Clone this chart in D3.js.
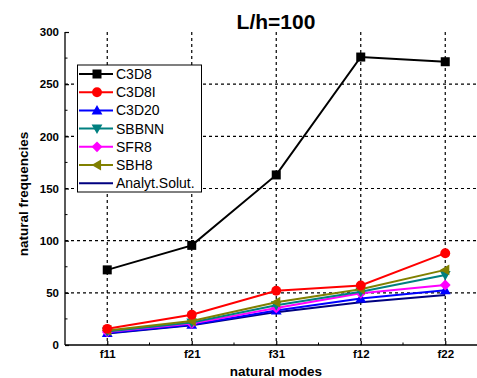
<!DOCTYPE html>
<html>
<head>
<meta charset="utf-8">
<script src="https://cdn.jsdelivr.net/npm/d3@7"></script>
<style>
  html, body { margin: 0; padding: 0; background: #fff; }
  svg { display: block; font-family: Arial, "Liberation Sans", sans-serif; }
</style>
</head>
<body>
<svg id="chart" width="477" height="378"></svg>
<script>
// Natural frequencies per mode, by element type
const modes = ["f11", "f21", "f31", "f12", "f22"];
const c3d8   = [72, 95.5, 163, 276, 271.5];
const c3d8i  = [15.5, 29, 52, 57, 88];
const c3d20  = [11.5, 19.5, 33, 44.5, 52.5];
const sbbnn  = [13, 21.5, 38, 51, 67];
const sfr8   = [12.5, 20.5, 35.5, 49.5, 57.5];
const sbh8   = [14, 23, 41, 53.5, 72];
const analyt = [11, 19, 31.5, 41, 48];
const yTicks = [0, 50, 100, 150, 200, 250, 300];

const series = [
  { name: "C3D8",          values: c3d8,   color: "#000000", symbol: "square" },
  { name: "C3D8I",         values: c3d8i,  color: "#ff0000", symbol: "circle" },
  { name: "C3D20",         values: c3d20,  color: "#0000ff", symbol: "up" },
  { name: "SBBNN",         values: sbbnn,  color: "#008080", symbol: "down" },
  { name: "SFR8",          values: sfr8,   color: "#ff00ff", symbol: "diamond" },
  { name: "SBH8",          values: sbh8,   color: "#808000", symbol: "left" },
  { name: "Analyt.Solut.", values: analyt, color: "#000080", symbol: null }
];

const svg = d3.select("#chart");
const plotLeft = 65, plotRight = 487.5, plotTop = 32, plotBottom = 345;

const x = d3.scalePoint().domain(modes).range([plotLeft, plotRight]).padding(0.5);
const y = d3.scaleLinear().domain([0, 300]).range([plotBottom, plotTop]);

// dashed grid
const grid = svg.append("g").attr("stroke", "#000").attr("stroke-width", 1.2)
  .attr("stroke-dasharray", "3,3");
grid.selectAll("line.v").data(modes).join("line").attr("class", "v")
  .attr("x1", d => x(d)).attr("x2", d => x(d))
  .attr("y1", plotTop).attr("y2", plotBottom);
grid.selectAll("line.h").data(yTicks.filter(d => d > 0 && d < 300)).join("line").attr("class", "h")
  .attr("x1", plotLeft).attr("x2", 477)
  .attr("y1", d => y(d)).attr("y2", d => y(d));

// axes (ticks drawn inward)
const yAxis = d3.axisLeft(y).tickValues(yTicks).tickSize(-4).tickPadding(6);
const gy = svg.append("g").attr("transform", `translate(${plotLeft},0)`).call(yAxis);
gy.select(".domain").attr("d", `M0,${plotTop}V${plotBottom}`).attr("stroke-width", 1.3);
gy.selectAll(".tick line").attr("stroke-width", 1.2);
gy.selectAll("text").attr("font-size", 11.5).attr("font-weight", "bold")
  .attr("font-family", "Arial, 'Liberation Sans', sans-serif");
const yMinor = d3.range(25, 300, 50);
gy.selectAll("line.minor").data(yMinor).join("line").attr("class", "minor")
  .attr("x1", 0).attr("x2", 2.5).attr("y1", d => y(d)).attr("y2", d => y(d))
  .attr("stroke", "#000").attr("stroke-width", 1);

const xAxis = d3.axisBottom(x).tickSize(-4).tickPadding(5);
const gx = svg.append("g").attr("transform", `translate(0,${plotBottom})`).call(xAxis);
gx.select(".domain").attr("d", `M${plotLeft},0H477`).attr("stroke-width", 1.3);
gx.selectAll(".tick line").attr("stroke-width", 1.2);
gx.selectAll("text").attr("font-size", 11.5).attr("font-weight", "bold")
  .attr("font-family", "Arial, 'Liberation Sans', sans-serif");
const step = x.step();
const xMinor = modes.slice(0, -1).map(d => x(d) + step / 2);
gx.selectAll("line.minor").data(xMinor).join("line").attr("class", "minor")
  .attr("x1", d => d).attr("x2", d => d).attr("y1", 0).attr("y2", -2.5)
  .attr("stroke", "#000").attr("stroke-width", 1);

// markers
function marker(sel, sym, color, s) {
  if (!sym) return;
  if (sym === "circle") {
    sel.append("circle").attr("r", s * 0.55).attr("fill", color);
  } else if (sym === "square") {
    sel.append("rect").attr("x", -s / 2).attr("y", -s / 2).attr("width", s).attr("height", s).attr("fill", color);
  } else {
    const h = s * 0.6;
    const pts = {
      up:      [[0, -h], [h, h * 0.75], [-h, h * 0.75]],
      down:    [[0, h], [h, -h * 0.75], [-h, -h * 0.75]],
      left:    [[-h, 0], [h * 0.75, -h], [h * 0.75, h]],
      diamond: [[0, -h], [h, 0], [0, h], [-h, 0]]
    }[sym];
    sel.append("polygon").attr("points", pts.map(p => p.join(",")).join(" ")).attr("fill", color);
  }
}

const line = d3.line().x((d, i) => x(modes[i])).y(d => y(d));
// draw so the lowest series end up beneath
const drawOrder = [6, 2, 4, 3, 5, 1, 0];
drawOrder.forEach(k => {
  const s = series[k];
  const g = svg.append("g");
  g.append("path").attr("d", line(s.values)).attr("fill", "none")
    .attr("stroke", s.color).attr("stroke-width", 2);
  s.values.forEach((v, i) => {
    const m = g.append("g").attr("transform", `translate(${x(modes[i])},${y(v)})`);
    marker(m, s.symbol, s.color, 9);
  });
});

// legend
const lg = svg.append("g");
lg.append("rect").attr("x", 77.5).attr("y", 65).attr("width", 124).attr("height", 127)
  .attr("fill", "#fff").attr("stroke", "#000").attr("stroke-width", 1);
series.forEach((s, i) => {
  const yy = 74 + i * 18.2;
  lg.append("line").attr("x1", 79).attr("x2", 113).attr("y1", yy).attr("y2", yy)
    .attr("stroke", s.color).attr("stroke-width", 2);
  const m = lg.append("g").attr("transform", `translate(97,${yy})`);
  marker(m, s.symbol, s.color, 9);
  lg.append("text").attr("x", 116).attr("y", yy).attr("dy", "0.36em")
    .attr("font-size", 14).text(s.name);
});

// titles
svg.append("text").attr("x", 276).attr("y", 29).attr("text-anchor", "middle")
  .attr("font-size", 21).attr("font-weight", "bold").text("L/h=100");
svg.append("text").attr("x", 276).attr("y", 376).attr("text-anchor", "middle")
  .attr("font-size", 13.5).attr("font-weight", "bold").text("natural modes");
svg.append("text").attr("transform", "translate(28,194) rotate(-90)")
  .attr("text-anchor", "middle").attr("font-size", 13.5).attr("font-weight", "bold")
  .text("natural frequencies");
</script>
</body>
</html>
